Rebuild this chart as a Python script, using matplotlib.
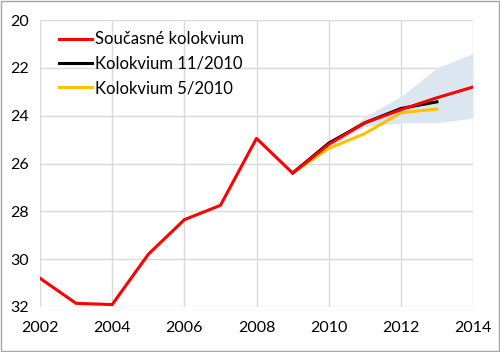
import matplotlib
matplotlib.use("Agg")
import matplotlib.pyplot as plt
from matplotlib.patches import Rectangle

years = [2002, 2003, 2004, 2005, 2006, 2007, 2008, 2009, 2010, 2011, 2012, 2013, 2014]
current = [30.8, 31.85, 31.9, 29.8, 28.35, 27.75, 24.95, 26.4, 25.2, 24.3, 23.75, 23.25, 22.8]

years_nov = [2009, 2010, 2011, 2012, 2013]
nov2010 = [26.4, 25.15, 24.3, 23.7, 23.42]

years_may = [2009, 2010, 2011, 2012, 2013]
may2010 = [26.4, 25.37, 24.75, 23.88, 23.72]

band_years = [2010, 2011, 2012, 2013, 2014]
band_low = [25.25, 24.05, 23.2, 22.0, 21.4]
band_high = [25.3, 24.45, 24.3, 24.3, 24.1]

plt.rcParams['font.family'] = ['Lato', 'DejaVu Sans']

fig = plt.figure(figsize=(5.0, 3.52), dpi=100)
ax = fig.add_axes([0.08, 0.128, 0.866, 0.815])

ax.fill_between(band_years, band_low, band_high, color='#dce6f0', lw=0, zorder=1)
ax.plot(years, current, color='#ff0000', lw=2.2, label='Současné kolokvium', zorder=4)
ax.plot(years_nov, nov2010, color='#000000', lw=2.2, label='Kolokvium 11/2010', zorder=3)
ax.plot(years_may, may2010, color='#ffc000', lw=2.2, label='Kolokvium 5/2010', zorder=2)

ax.set_xlim(2002, 2014)
ax.set_ylim(32, 20)
ax.set_xticks(range(2002, 2015, 2))
ax.set_yticks(range(20, 33, 2))
ax.grid(True, color='#d9d9d9', lw=1)
ax.set_axisbelow(True)
for s in ax.spines.values():
    s.set_visible(False)
ax.tick_params(length=0, labelsize=11.5, colors='black', pad=8)
ax.tick_params(axis='x', pad=10)

leg = ax.legend(loc='upper left', frameon=False, fontsize=12, handlelength=2.0,
                handletextpad=0.2, labelspacing=0.5, borderaxespad=0.2,
                bbox_to_anchor=(0.02, 0.995))

fig.patches.append(Rectangle((0.002, 0.003), 0.995, 0.994, transform=fig.transFigure,
                             fill=False, edgecolor='#a6a6a6', lw=1))

fig.savefig('out.png', dpi=100)
